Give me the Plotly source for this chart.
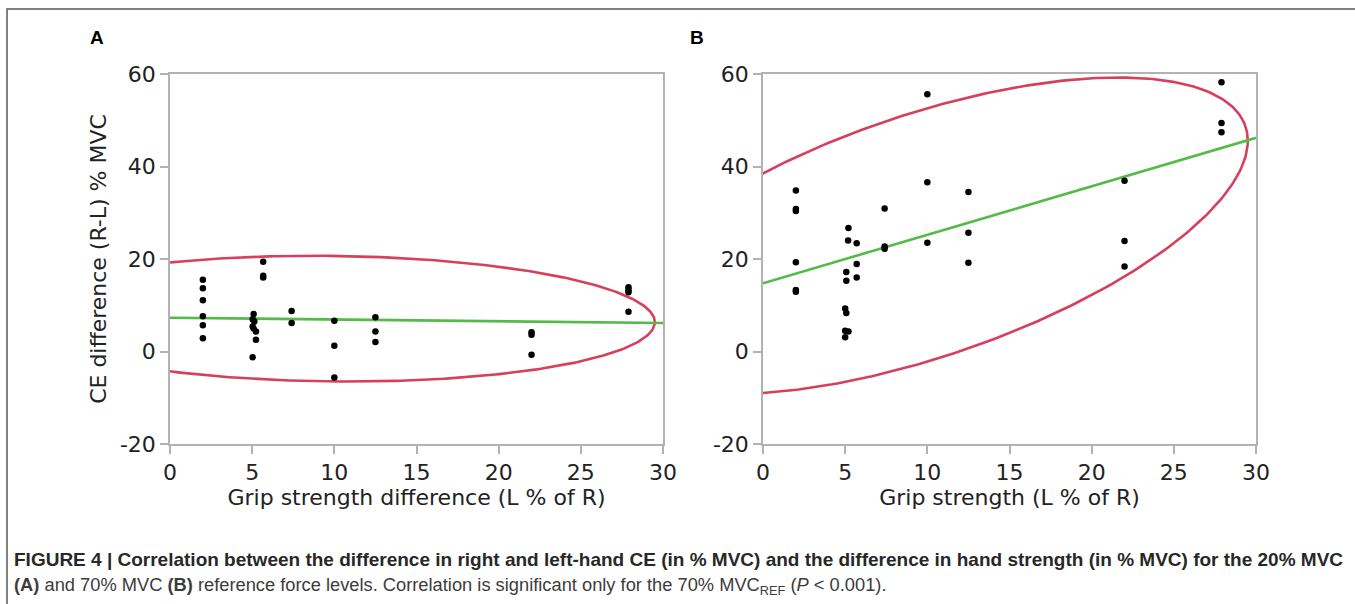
import numpy as np
import plotly.graph_objects as go

W, H = 1355, 604

# ---------------- data ----------------
# Panel A: 20% MVC
xa = [2, 2, 2, 2, 2, 2,
      5.09, 5.03, 5.13, 5.03, 5.09, 5.23, 5.23, 5.03,
      5.67, 5.67, 5.67,
      7.4, 7.4,
      10.0, 10.0, 10.0,
      12.5, 12.5, 12.5,
      22.0, 22.0, 22.0,
      27.9, 27.9, 27.9, 27.9]
ya = [15.5, 13.7, 11.1, 7.6, 5.7, 2.85,
      8.1, 7.0, 6.5, 5.4, 5.0, 4.3, 2.55, -1.25,
      19.4, 16.4, 16.0,
      8.75, 6.15,
      6.65, 1.25, -5.6,
      7.4, 4.35, 2.05,
      4.15, 3.6, -0.7,
      13.9, 13.3, 12.8, 8.6]

# Panel B: 70% MVC
xb = [2, 2, 2, 2, 2, 2,
      5.2, 5.18, 5.07, 5.07, 5.0, 5.07, 5.0, 5.2, 5.0,
      5.7, 5.7, 5.7,
      7.4, 7.4, 7.4,
      10.0, 10.0, 10.0,
      12.5, 12.5, 12.5,
      22.0, 22.0, 22.0,
      27.9, 27.9, 27.9]
yb = [34.8, 30.8, 30.4, 19.3, 13.3, 12.9,
      26.7, 24.0, 17.2, 15.3, 9.3, 8.3, 4.5, 4.3, 3.1,
      23.4, 18.9, 16.0,
      30.9, 22.7, 22.2,
      55.6, 36.6, 23.5,
      34.5, 25.7, 19.2,
      36.9, 23.9, 18.4,
      58.2, 49.4, 47.4]

# regression lines (intercept, slope)
fit_a = (7.3, -0.038)
fit_b = (14.75, 1.048)

# density ellipses (cx, cy, half-width x, half-height y, correlation)
ell_a = (9.8, 7.1, 19.7, 13.6, -0.055)
ell_b = (9.8, 25.0, 19.7, 34.24, 0.6)

x_range = [0, 30]
y_range = [-20, 60]
x_ticks = [0, 5, 10, 15, 20, 25, 30]
x_ticktext = ["0", "5", "10", "15", "20", "25", "30"]
y_ticks = [-20, 0, 20, 40, 60]
y_ticktext = ["-20", "0", "20", "40", "60"]

xtitle_a = "Grip strength difference (L % of R)"
xtitle_b = "Grip strength (L % of R)"
ytitle_a = "CE difference (R-L) % MVC"

caption1 = ("<b>FIGURE 4 | Correlation between the difference in right and left-hand CE (in % MVC) "
            "and the difference in hand strength (in % MVC) for the 20% MVC</b>")
caption2 = ("<b>(A)</b> and 70% MVC <b>(B)</b> reference force levels. Correlation is significant "
            "only for the 70% MVC<sub>REF</sub> (<i>P</i> &lt; 0.001).")

RED = "rgb(214,64,92)"
GREEN = "rgb(84,186,72)"
AXC = "rgb(178,178,178)"
TXT = "rgb(34,34,34)"


def ellipse(p, n=400):
    cx, cy, ax, ay, rho = p
    t = np.linspace(0, 2 * np.pi, n)
    x = cx + ax * np.cos(t)
    y = cy + ay * (rho * np.cos(t) + np.sqrt(1 - rho ** 2) * np.sin(t))
    return x, y


def px(x):
    return x / W


def py(y):
    return 1 - y / H


fig = go.Figure()

panels = [
    ("x", "y", xa, ya, fit_a, ell_a),
    ("x2", "y2", xb, yb, fit_b, ell_b),
]
for xr, yr, xs, ys, fit, ell in panels:
    ex, ey = ellipse(ell)
    fig.add_trace(go.Scatter(x=ex, y=ey, mode="lines", xaxis=xr, yaxis=yr,
                             line=dict(color=RED, width=2.6), hoverinfo="skip",
                             showlegend=False))
    lx = np.array(x_range, dtype=float)
    fig.add_trace(go.Scatter(x=lx, y=fit[0] + fit[1] * lx, mode="lines", xaxis=xr, yaxis=yr,
                             line=dict(color=GREEN, width=2.6), showlegend=False))
    fig.add_trace(go.Scatter(x=xs, y=ys, mode="markers", xaxis=xr, yaxis=yr,
                             marker=dict(color="black", size=6.5, line=dict(width=0)),
                             cliponaxis=True, showlegend=False))

axis_common = dict(
    showline=True, mirror=True, linecolor=AXC, linewidth=1.5,
    ticks="outside", ticklen=8, tickcolor=AXC, tickwidth=1.5,
    showgrid=False, zeroline=False, automargin=False,
    tickfont=dict(family="DejaVu Sans", size=22, color=TXT),
)
title_font = dict(family="DejaVu Sans", size=22, color=TXT)
ydom = [py(444), py(74)]
fig.update_layout(
    template="none",
    width=W, height=H,
    margin=dict(l=0, r=0, t=0, b=0, pad=0),
    paper_bgcolor="white", plot_bgcolor="white",
    showlegend=False,
    xaxis=dict(domain=[px(170), px(663)], range=x_range, tickvals=x_ticks,
               ticktext=x_ticktext, anchor="y",
               title=dict(text=xtitle_a, standoff=0, font=title_font),
               **axis_common),
    yaxis=dict(domain=ydom, range=y_range, tickvals=y_ticks, ticktext=y_ticktext,
               anchor="x",
               title=dict(text=ytitle_a, standoff=7, font=title_font),
               **axis_common),
    xaxis2=dict(domain=[px(763), px(1256)], range=x_range, tickvals=x_ticks,
                ticktext=x_ticktext, anchor="y2",
                title=dict(text=xtitle_b, standoff=0, font=title_font),
                **axis_common),
    yaxis2=dict(domain=ydom, range=y_range, tickvals=y_ticks, ticktext=y_ticktext,
                anchor="x2", **axis_common),
)

# panel letters
for letter, xpos in [("A", 97), ("B", 697)]:
    fig.add_annotation(x=px(xpos), y=py(38), xref="paper", yref="paper",
                       text="<b>%s</b>" % letter, showarrow=False,
                       font=dict(family="Liberation Sans", size=19, color="black"),
                       xanchor="center", yanchor="middle")

# caption
fig.add_annotation(x=px(12), y=py(559), xref="paper", yref="paper", text=caption1,
                   showarrow=False, xanchor="left", yanchor="middle",
                   font=dict(family="Liberation Sans", size=19, color="rgb(40,40,40)"))
fig.add_annotation(x=px(12), y=py(586), xref="paper", yref="paper", text=caption2,
                   showarrow=False, xanchor="left", yanchor="middle",
                   font=dict(family="Liberation Sans", size=18.3, color="rgb(60,60,60)"))

# outer frame
fig.add_shape(type="rect", xref="paper", yref="paper",
              x0=px(7), x1=px(W + 10), y0=py(H + 10), y1=py(9),
              line=dict(color="rgb(90,90,90)", width=1.5), fillcolor="rgba(0,0,0,0)")

fig.write_html("out.html", config={"displayModeBar": False},
               post_script="document.body.style.margin='0';")
